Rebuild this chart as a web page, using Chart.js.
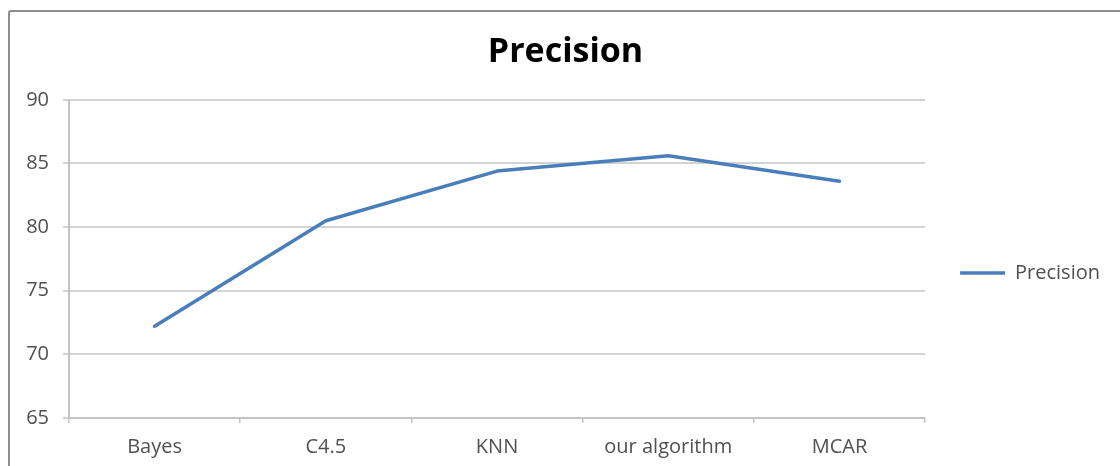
<!DOCTYPE html>
<html>
<head>
<meta charset="utf-8">
<script src="https://cdn.jsdelivr.net/npm/chart.js@4/dist/chart.umd.min.js"></script>
<style>
  html, body { margin: 0; padding: 0; background: #fff; }
  #wrap { position: relative; width: 1120px; height: 466px; overflow: hidden; background: #fff; }
  #c { position: absolute; left: 0; top: 0; }
  #frame {
    position: absolute; left: 8px; top: 10px; right: -20px; bottom: -20px;
    border-top: 2px solid #8e8e8e; border-left: 2px solid #8e8e8e;
    border-top-left-radius: 3px; pointer-events: none;
  }
</style>
</head>
<body>
<div id="wrap">
  <canvas id="c" width="1120" height="466"></canvas>
  <div id="frame"></div>
</div>
<script>
// Classifier comparison: precision (%)
const categories = ['Bayes', 'C4.5', 'KNN', 'our algorithm', 'MCAR'];
const precisionValues = [72.2, 80.5, 84.4, 85.6, 83.6];
const yMin = 65;
const yMax = 90;
const yStep = 5;

const FONT = "'Open Sans', 'Liberation Sans', sans-serif";
const LINE_BLUE = '#4a7ebb';
const GRID_GREY = '#d3d3d3';
const TEXT_GREY = '#505050';

new Chart(document.getElementById('c'), {
  type: 'line',
  data: {
    labels: categories,
    datasets: [{
      label: 'Precision',
      data: precisionValues,
      borderColor: LINE_BLUE,
      backgroundColor: LINE_BLUE,
      borderWidth: 3.5,
      borderJoinStyle: 'round',
      borderCapStyle: 'round',
      pointRadius: 0,
      pointHoverRadius: 0,
      pointStyle: 'line',
      tension: 0,
      fill: false
    }]
  },
  options: {
    responsive: false,
    animation: false,
    devicePixelRatio: 1,
    layout: { padding: { left: 21, right: 10, top: 0, bottom: 0 } },
    plugins: {
      title: {
        display: true,
        text: 'Precision',
        color: '#000',
        font: { family: FONT, size: 34, weight: 'bold', lineHeight: 1.2 },
        padding: { top: 32, bottom: 27 }
      },
      legend: {
        display: true,
        position: 'right',
        fullSize: false,
        title: { display: true, text: '', padding: 0, font: { size: 20, lineHeight: 1.4 } },
        labels: {
          usePointStyle: true,
          pointStyle: 'line',
          pointStyleWidth: 45,
          padding: 35,
          color: TEXT_GREY,
          font: { family: FONT, size: 20 }
        }
      },
      tooltip: { enabled: false }
    },
    scales: {
      x: {
        type: 'category',
        offset: true,
        grid: {
          display: true,
          offset: true,
          drawOnChartArea: false,
          drawTicks: true,
          tickLength: 5,
          color: '#c4c4c4',
          lineWidth: 1.5
        },
        border: { display: true, color: '#c4c4c4', width: 2 },
        ticks: {
          color: TEXT_GREY,
          font: { family: FONT, size: 20, lineHeight: 1.2 },
          padding: 12,
          maxRotation: 0,
          autoSkip: false
        },
        afterFit: (scale) => { scale.height = 48; }
      },
      y: {
        min: yMin,
        max: yMax,
        grid: {
          display: true,
          drawTicks: true,
          tickLength: 6,
          color: GRID_GREY,
          lineWidth: 2
        },
        border: { display: true, color: '#c4c4c4', width: 2 },
        ticks: {
          stepSize: yStep,
          color: TEXT_GREY,
          font: { family: FONT, size: 20 },
          padding: 14
        },
        afterFit: (scale) => { scale.width = 48; }
      }
    }
  }
});
</script>
</body>
</html>
